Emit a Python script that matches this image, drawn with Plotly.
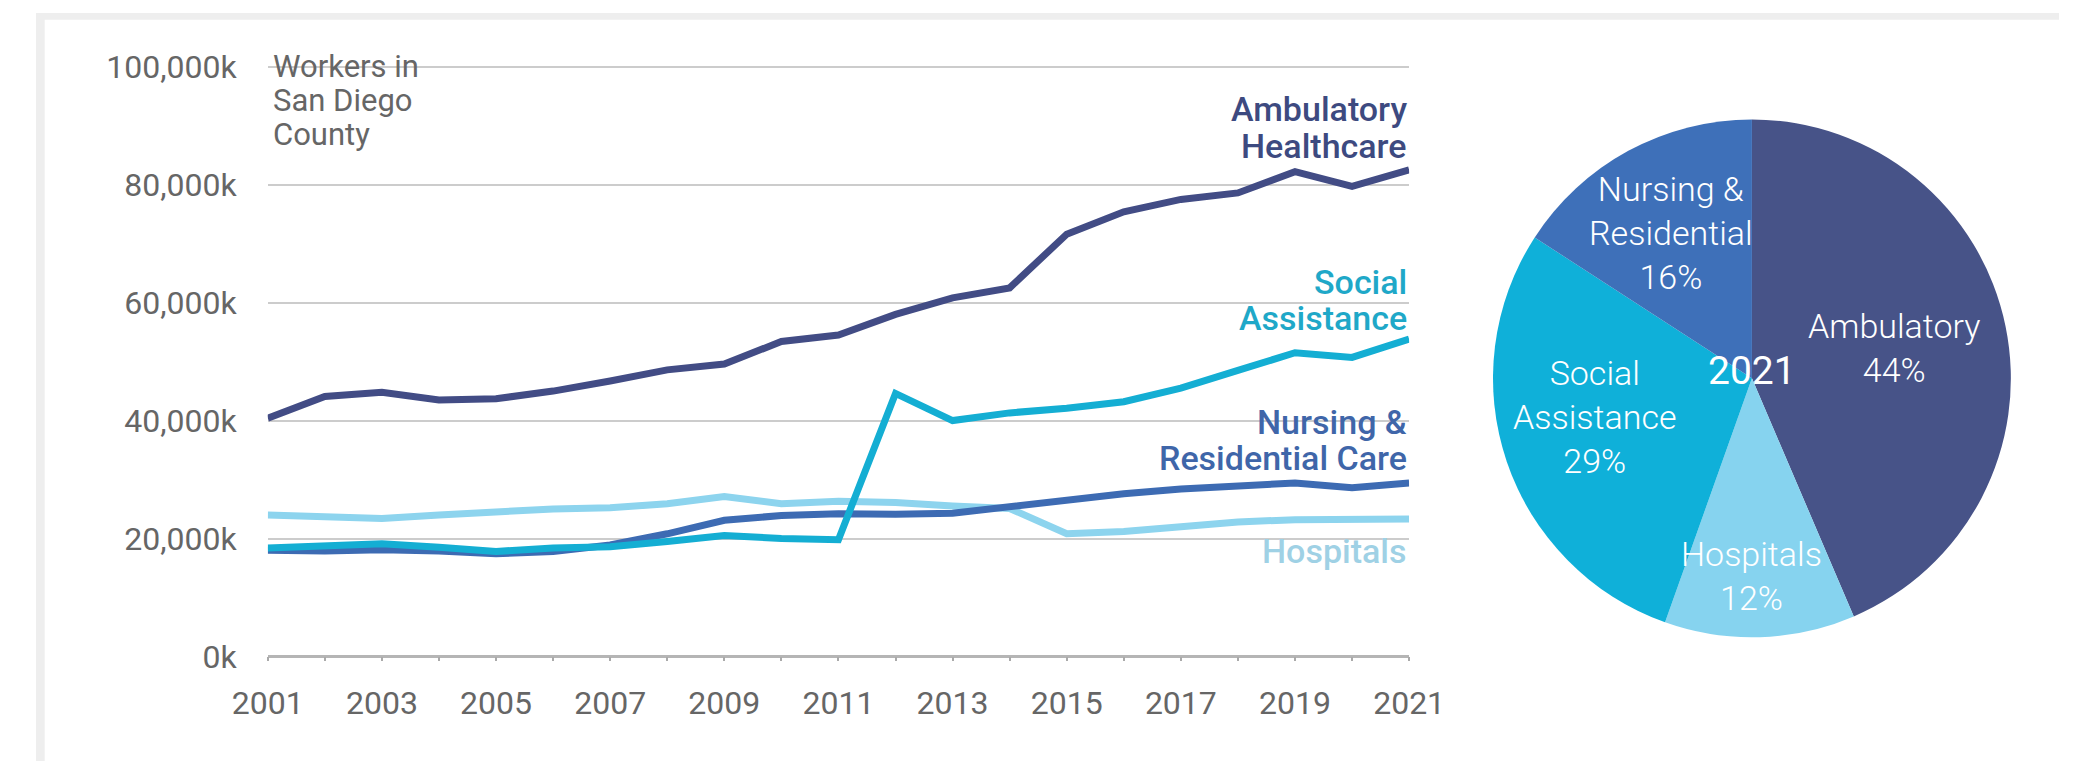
import plotly.graph_objects as go

W, H = 2095, 780

# Workers in San Diego County by healthcare sector, 2001-2021
years = list(range(2001, 2022))
ambulatory = [40400, 44100, 44800, 43500, 43700, 45000, 46700, 48600, 49600, 53400, 54500,
              58000, 60800, 62500, 71600, 75400, 77500, 78600, 82200, 79700, 82500]
social = [18400, 18700, 19100, 18500, 17800, 18400, 18600, 19500, 20500, 20000, 19800,
          44600, 40000, 41300, 42100, 43200, 45500, 48500, 51500, 50700, 53800]
nursing = [18000, 17900, 18100, 17900, 17400, 17800, 18900, 20800, 23100, 23900, 24200,
           24100, 24300, 25400, 26600, 27600, 28400, 29000, 29400, 28600, 29400]
hospitals = [24000, 23700, 23400, 24000, 24600, 25000, 25200, 25900, 27100, 25900, 26300,
             26100, 25500, 25100, 20800, 21200, 22000, 22800, 23200, 23200, 23300]

# 2021 share of workers
pie_labels = ["Ambulatory", "Hospitals", "Social<br>Assistance", "Nursing &<br>Residential"]
pie_shares = [44, 12, 29, 16]
pie_year = "2021"

y_ticks = [0, 20000, 40000, 60000, 80000, 100000]
y_ticktext = [f"{v:,}k" for v in y_ticks]

C_AMB = "#424c85"
C_SOC = "#14aed3"
C_NUR = "#3d6bb3"
C_HOS = "#8dd4ee"
PIE_COLORS = ["#475388", "#86d3ef", "#0fb0d9", "#3e70b9"]

FONT = "Roboto, 'Open Sans', sans-serif"
GRAY = "#666666"

# plot area in page pixels
X0, X1 = 240, 1422          # 2001 .. 2021
Y_ZERO, Y_TOP = 671, 56     # 0 .. 100,000k
Y_MAX = 101000              # a little headroom so the top gridline is kept
y_top_px = Y_ZERO - (Y_ZERO - Y_TOP) * Y_MAX / 100000


def px(x):
    return x / W


def py(y):
    return 1 - y / H


fig = go.Figure()

series = [
    ("Hospitals", hospitals, C_HOS),
    ("Nursing & Residential Care", nursing, C_NUR),
    ("Social Assistance", social, C_SOC),
    ("Ambulatory Healthcare", ambulatory, C_AMB),
]
for name, vals, col in series:
    fig.add_trace(go.Scatter(
        x=years, y=vals, name=name, mode="lines",
        line=dict(color=col, width=7), hoverinfo="skip",
        xaxis="x", yaxis="y", showlegend=False,
    ))

PIE_CX, PIE_CY, PIE_R = 1777, 381, 270
fig.add_trace(go.Pie(
    labels=[l.replace("<br>", " ") for l in pie_labels],
    values=pie_shares,
    marker=dict(colors=PIE_COLORS, line=dict(width=0)),
    sort=False, direction="clockwise", rotation=0,
    textinfo="none", hoverinfo="skip", showlegend=False,
    domain=dict(x=[px(PIE_CX - PIE_R), px(PIE_CX + PIE_R)],
                y=[py(PIE_CY + PIE_R), py(PIE_CY - PIE_R)]),
))

annotations = []

# axis caption
for i, line in enumerate(["Workers in", "San Diego", "County"]):
    annotations.append(dict(
        x=px(243), y=py(56 + 35.5 * i), xref="paper", yref="paper",
        text=line, showarrow=False, xanchor="left", yanchor="middle",
        font=dict(family=FONT, size=31, color=GRAY),
    ))

# series end labels
end_labels = [
    (["Ambulatory", "Healthcare"], [100, 139], "#3d4a80"),
    (["Social", "Assistance"], [280, 318], "#1fa8c8"),
    (["Nursing &", "Residential Care"], [427, 464], "#3f66a9"),
    (["Hospitals"], [561], "#9fd1e5"),
]
for lines, ys, col in end_labels:
    for line, yy in zip(lines, ys):
        annotations.append(dict(
            x=years[-1], y=py(yy), xref="x", yref="paper",
            text=line, showarrow=False, xanchor="right", yanchor="middle",
            font=dict(family=FONT, size=34, color=col, weight=500),
        ))

# pie labels
pie_label_pos = [(1924, 349), (1777, 587), (1614, 421), (1693, 229)]
for lab, share, (lx, ly) in zip(pie_labels, pie_shares, pie_label_pos):
    annotations.append(dict(
        x=px(lx), y=py(ly), xref="paper", yref="paper",
        text=f"{lab}<br>{share}%", showarrow=False, xanchor="center", yanchor="middle",
        font=dict(family=FONT, size=34, color="white", weight=300),
    ))
annotations.append(dict(
    x=px(PIE_CX), y=py(373), xref="paper", yref="paper",
    text=pie_year, showarrow=False, xanchor="center", yanchor="middle",
    font=dict(family=FONT, size=39, color="white", weight=400),
))

# light frame along the top and left edges
shapes = [
    dict(type="rect", xref="paper", yref="paper", x0=0, x1=1, y0=py(7), y1=1,
         line=dict(width=0), fillcolor="#eeeeee", layer="below"),
    dict(type="rect", xref="paper", yref="paper", x0=0, x1=px(9), y0=0, y1=1,
         line=dict(width=0), fillcolor="#eeeeee", layer="below"),
]

fig.update_layout(
    width=W, height=H, autosize=False,
    margin=dict(l=0, r=0, t=0, b=0, pad=0),
    paper_bgcolor="white", plot_bgcolor="rgba(0,0,0,0)",
    annotations=annotations, shapes=shapes,
    xaxis=dict(
        domain=[px(X0), px(X1)], range=[years[0], years[-1]],
        tickmode="array", tickvals=years[::2], ticktext=[str(y) for y in years[::2]],
        ticks="outside", ticklen=4, tickwidth=1.5, tickcolor="#aaaaaa",
        minor=dict(tickvals=years, ticks="outside", ticklen=4, tickwidth=1.5, tickcolor="#aaaaaa"),
        showgrid=False, zeroline=False,
        showline=False,
        tickfont=dict(family=FONT, size=32, color=GRAY),
        ticklabelstandoff=14,
        fixedrange=True,
    ),
    yaxis=dict(
        domain=[py(Y_ZERO), py(y_top_px)], range=[0, Y_MAX],
        tickmode="array", tickvals=y_ticks, ticktext=y_ticktext,
        showgrid=True, gridcolor="#cccccc", gridwidth=2,
        zeroline=True, zerolinecolor="#b5b5b5", zerolinewidth=2.5,
        showline=False, ticks="",
        tickfont=dict(family=FONT, size=32, color=GRAY),
        ticklabelstandoff=30,
        fixedrange=True,
    ),
)

fig.write_html(
    "out.html",
    config=dict(displayModeBar=False, responsive=False),
    post_script="document.body.style.margin='0';document.body.style.overflow='hidden';",
)
